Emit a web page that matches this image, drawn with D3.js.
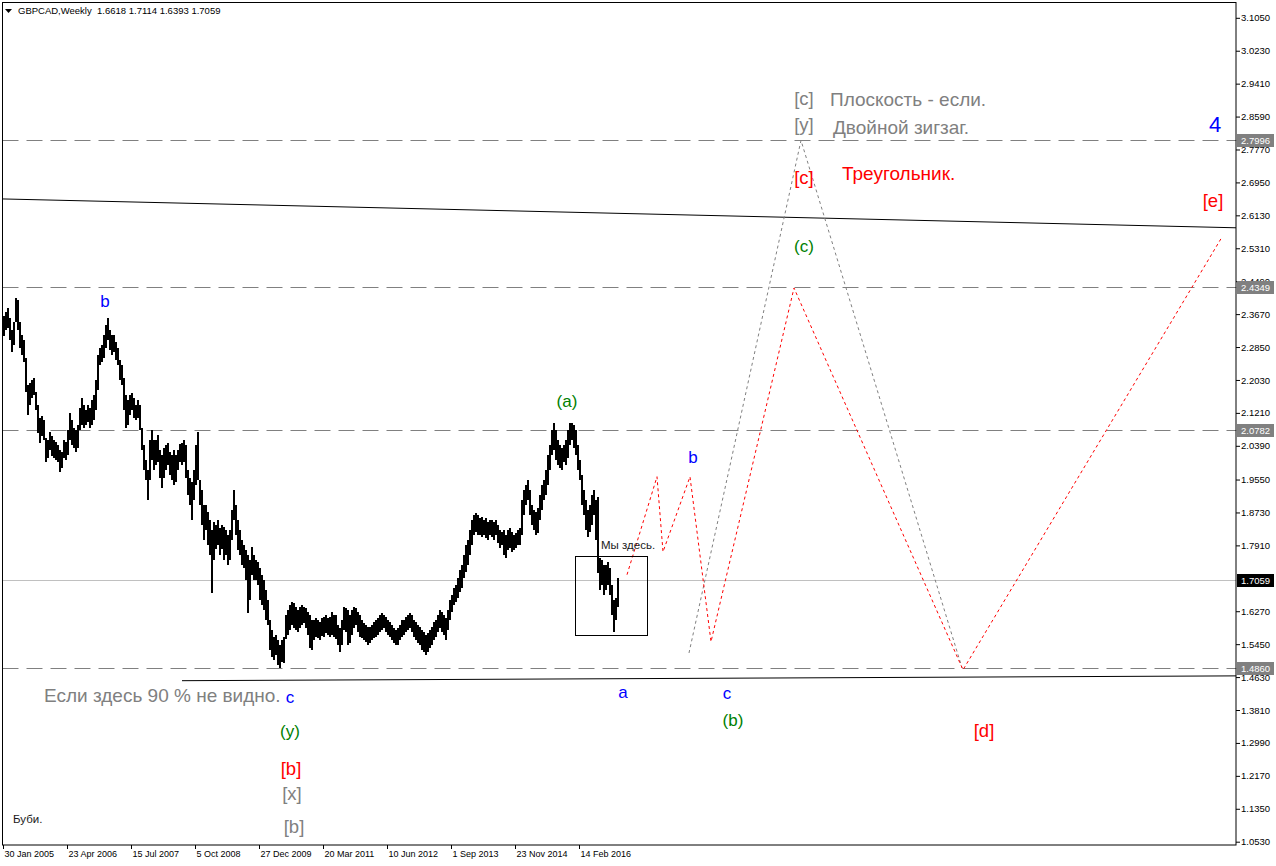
<!DOCTYPE html>
<html><head><meta charset="utf-8">
<script src="https://cdn.jsdelivr.net/npm/d3@7"></script>
<style>body{margin:0;background:#fff}svg{display:block}</style>
</head><body>
<svg id="c" width="1276" height="866"></svg>
<script>
// ---------------- DATA ----------------
const symbolTitle = "GBPCAD,Weekly";
const lastBarOHLC = [1.6618, 1.7114, 1.6393, 1.7059];
const startDate = "2005-01-30";
const weeksPerBar = 2;
const barHigh = [
2.362,2.372,2.382,2.357,2.328,2.347,2.407,2.402,2.347,2.315,
2.303,2.258,2.190,2.195,2.203,2.208,2.173,2.141,2.108,2.113,
2.103,2.059,2.054,2.074,2.064,2.054,2.049,2.041,2.029,2.024,
2.054,2.049,2.079,2.121,2.103,2.084,2.079,2.091,2.133,2.158,
2.141,2.128,2.141,2.133,2.153,2.166,2.203,2.265,2.283,2.290,
2.315,2.340,2.357,2.328,2.315,2.315,2.298,2.283,2.253,2.240,
2.208,2.166,2.153,2.166,2.171,2.158,2.141,2.153,2.141,2.084,
2.041,2.004,1.979,2.054,2.079,2.054,2.054,2.066,2.029,2.016,
2.034,2.041,2.046,2.024,2.016,2.029,2.016,2.029,2.044,2.046,
2.054,2.041,1.979,1.959,1.949,1.979,2.041,2.074,1.954,1.929,
1.891,1.891,1.874,1.854,1.829,1.849,1.841,1.854,1.834,1.841,
1.836,1.829,1.817,1.829,1.879,1.929,1.891,1.854,1.829,1.805,
1.792,1.780,1.767,1.755,1.787,1.767,1.755,1.750,1.735,1.717,
1.705,1.680,1.655,1.605,1.580,1.563,1.568,1.556,1.543,1.556,
1.563,1.617,1.630,1.642,1.650,1.647,1.637,1.630,1.637,1.642,
1.637,1.635,1.625,1.617,1.605,1.605,1.610,1.605,1.600,1.610,
1.612,1.617,1.610,1.612,1.625,1.617,1.617,1.593,1.585,1.605,
1.637,1.635,1.630,1.617,1.630,1.637,1.635,1.625,1.617,1.605,
1.598,1.593,1.588,1.588,1.593,1.600,1.605,1.610,1.617,1.622,
1.617,1.612,1.605,1.600,1.593,1.585,1.580,1.585,1.593,1.605,
1.605,1.612,1.617,1.622,1.617,1.605,1.600,1.593,1.588,1.580,
1.575,1.568,1.573,1.580,1.588,1.600,1.605,1.617,1.630,1.625,
1.617,1.610,1.630,1.655,1.667,1.685,1.692,1.710,1.730,1.742,
1.767,1.792,1.805,1.829,1.854,1.866,1.871,1.866,1.859,1.861,
1.854,1.859,1.849,1.854,1.854,1.849,1.854,1.841,1.829,1.824,
1.829,1.817,1.829,1.834,1.824,1.817,1.822,1.829,1.834,1.904,
1.929,1.941,1.954,1.929,1.891,1.879,1.874,1.884,1.916,1.941,
1.954,1.979,2.016,2.041,2.079,2.096,2.079,2.054,2.041,2.034,
2.041,2.054,2.079,2.096,2.096,2.091,2.079,2.041,2.004,1.966,
1.929,1.904,1.879,1.891,1.916,1.929,1.904,1.911,1.760,1.755,
1.742,1.742,1.750,1.735,1.692,1.655,1.660,1.710];
const barLow = [
2.313,2.328,2.332,2.303,2.273,2.290,2.347,2.328,2.283,2.265,
2.248,2.173,2.116,2.141,2.158,2.166,2.128,2.071,2.046,2.064,
2.054,1.999,2.009,2.029,2.014,2.009,2.004,1.999,1.974,1.984,
2.009,2.004,2.016,2.054,2.041,2.034,2.024,2.034,2.079,2.091,
2.084,2.091,2.098,2.084,2.091,2.103,2.128,2.178,2.240,2.248,
2.258,2.283,2.303,2.278,2.265,2.273,2.253,2.240,2.203,2.190,
2.128,2.084,2.091,2.116,2.128,2.108,2.103,2.108,2.079,2.029,
1.979,1.954,1.904,1.954,2.004,1.979,1.991,1.999,1.959,1.934,
1.959,1.979,1.991,1.966,1.954,1.941,1.949,1.979,1.999,1.991,
1.999,1.959,1.916,1.891,1.854,1.904,1.941,1.954,1.891,1.841,
1.805,1.829,1.792,1.767,1.672,1.755,1.780,1.792,1.767,1.780,
1.755,1.767,1.742,1.755,1.805,1.854,1.817,1.780,1.767,1.742,
1.735,1.705,1.622,1.655,1.717,1.705,1.705,1.692,1.655,1.642,
1.630,1.605,1.593,1.531,1.513,1.506,1.518,1.493,1.486,1.501,
1.498,1.556,1.568,1.580,1.593,1.585,1.580,1.575,1.585,1.593,
1.598,1.585,1.568,1.536,1.531,1.556,1.563,1.561,1.556,1.566,
1.563,1.573,1.568,1.561,1.568,1.561,1.556,1.543,1.526,1.543,
1.580,1.575,1.543,1.548,1.568,1.585,1.593,1.575,1.563,1.561,
1.556,1.551,1.543,1.548,1.556,1.561,1.563,1.568,1.575,1.580,
1.585,1.575,1.568,1.563,1.556,1.548,1.543,1.543,1.556,1.563,
1.568,1.575,1.580,1.585,1.575,1.563,1.556,1.548,1.543,1.531,
1.526,1.518,1.526,1.536,1.543,1.556,1.563,1.575,1.585,1.575,
1.568,1.556,1.580,1.605,1.625,1.642,1.650,1.660,1.675,1.685,
1.710,1.725,1.742,1.767,1.792,1.817,1.824,1.817,1.817,1.812,
1.817,1.810,1.805,1.817,1.812,1.805,1.817,1.797,1.785,1.792,
1.767,1.760,1.780,1.785,1.775,1.780,1.785,1.792,1.792,1.817,
1.866,1.891,1.904,1.866,1.841,1.829,1.817,1.822,1.854,1.879,
1.904,1.916,1.941,1.979,2.016,2.029,2.004,1.991,1.984,1.979,
1.999,1.991,2.009,2.041,2.054,2.034,2.016,1.979,1.954,1.891,
1.866,1.829,1.812,1.824,1.841,1.866,1.805,1.722,1.680,1.692,
1.667,1.680,1.692,1.667,1.617,1.575,1.605,1.637];

const yTickValues = [3.1050,3.0230,2.9410,2.8590,2.7770,2.6950,2.6130,2.5310,2.4490,2.3670,2.2850,2.2030,2.1210,2.0390,1.9550,1.8730,1.7910,1.6270,1.5450,1.4630,1.3810,1.2990,1.2170,1.1350,1.0530];
const xTickDates = ["2005-01-30","2006-04-23","2007-07-15","2008-10-05","2009-12-27","2011-03-20","2012-06-10","2013-09-01","2014-11-23","2016-02-14"];
const xTickLabels = ["30 Jan 2005","23 Apr 2006","15 Jul 2007","5 Oct 2008","27 Dec 2009","20 Mar 2011","10 Jun 2012","1 Sep 2013","23 Nov 2014","14 Feb 2016"];

const dashedLevels = [2.7996, 2.4349, 2.0782, 1.4860];
const currentPrice = 1.7059;

// trend lines & projections: [week offset from start, price]
const upperTrend = [[-3, 2.654], [1233, 2.582]];
const lowerTrend = [[179, 1.454], [1233, 1.466]];
const redProjection = [[624,1.718],[654,1.962],[660,1.775],[687,1.962],[708,1.551],[791,2.432],[960,1.481],[1219,2.559]];
const grayProjection = [[686,1.523],[798,2.7996],[959,1.486]];
const hereBoxWeeks = [572, 644];
const hereBoxPrices = [1.765, 1.568];

// wave labels: [text, week, price, kind]
const waveLabels = [
  ["b",102,2.385,"blue"],
  ["(a)",564,2.136,"green"],
  ["b",690,1.996,"blue"],
  ["a",620,1.411,"blue"],
  ["c",724,1.409,"blue"],
  ["(b)",730,1.342,"green"],
  ["[d]",981,1.314,"red"],
  ["[e]",1210,2.634,"red"],
  ["4",1212,2.821,"blueBig"],
  ["[c]",801,2.888,"gray"],
  ["[y]",801,2.823,"gray"],
  ["[c]",801,2.691,"red"],
  ["(c)",801,2.522,"green"],
  ["c",287,1.399,"blue"],
  ["(y)",287,1.314,"green"],
  ["[b]",288,1.220,"red"],
  ["[x]",289,1.157,"gray"],
  ["[b]",291,1.075,"gray"]
];
const notes = [
  ["Плоскость - если.",827,2.885,"grayNote"],
  ["Двойной зигзаг.",830,2.816,"grayNote"],
  ["Треугольник.",839,2.701,"redNote"],
  ["Если здесь 90 % не видно.",41,1.401,"grayNote"],
  ["Мы здесь.",598,1.782,"small"],
  ["Буби.",10,1.100,"small"]
];

// ---------------- STYLE / LAYOUT ----------------
const FONT = "'Liberation Sans', Arial, Helvetica, sans-serif";
const styles = {
  blue:{fill:"#0000ff",size:17,anchor:"middle"},
  blueBig:{fill:"#0000ff",size:22,anchor:"middle"},
  green:{fill:"#008000",size:17,anchor:"middle"},
  red:{fill:"#ff0000",size:18.5,anchor:"middle"},
  gray:{fill:"#808080",size:18.5,anchor:"middle"},
  grayNote:{fill:"#808080",size:19,anchor:"start"},
  redNote:{fill:"#ff0000",size:19,anchor:"start"},
  small:{fill:"#1a1a1a",size:11.5,anchor:"start"}
};
const frame = {left:2.5, right:1236.5, top:2.5, bottom:845.5};

const svg = d3.select("#c");
const t0 = d3.isoParse(startDate);
const WEEK = 7*24*3600*1000;
const wk = w => new Date(+t0 + w*WEEK);

const x = d3.scaleUtc().domain([wk(0), wk(1233)]).range([3, 1236]);
const y = d3.scaleLinear().domain([1.053, 3.105]).range([841.7, 17.8]);

svg.append("defs").append("clipPath").attr("id","clip")
  .append("rect").attr("x",frame.left).attr("y",frame.top)
  .attr("width",frame.right-frame.left).attr("height",frame.bottom-frame.top);

const plot = svg.append("g").attr("clip-path","url(#clip)");

// level lines
plot.selectAll("line.lvl").data(dashedLevels).join("line").attr("class","lvl")
  .attr("x1",frame.left).attr("x2",frame.right)
  .attr("y1",d=>Math.round(y(d))+0.5).attr("y2",d=>Math.round(y(d))+0.5)
  .attr("stroke","#808080").attr("stroke-width",1).attr("stroke-dasharray","16,8");
plot.append("line")
  .attr("x1",frame.left).attr("x2",frame.right)
  .attr("y1",Math.round(y(currentPrice))+0.5).attr("y2",Math.round(y(currentPrice))+0.5)
  .attr("stroke","#c0c0c0").attr("stroke-width",1);

// trend lines
const line = d3.line().x(d=>x(wk(d[0]))).y(d=>y(d[1]));
[upperTrend, lowerTrend].forEach(t=>{
  plot.append("path").attr("d",line(t)).attr("fill","none").attr("stroke","#000").attr("stroke-width",1);
});

// price bars
const n = Math.min(barHigh.length, barLow.length);
const bars = d3.range(n).map(i=>({date:wk(i*weeksPerBar), hi:barHigh[i], lo:barLow[i]}));
plot.append("g").attr("shape-rendering","crispEdges").selectAll("rect").data(bars).join("rect")
  .attr("x",d=>Math.round(x(d.date))).attr("width",2)
  .attr("y",d=>Math.round(y(d.hi))).attr("height",d=>Math.max(1,Math.round(y(d.lo)-y(d.hi))))
  .attr("fill","#000");

// projections
plot.append("path").attr("d",line(grayProjection)).attr("fill","none")
  .attr("stroke","#808080").attr("stroke-width",1).attr("stroke-dasharray","3,3");
plot.append("path").attr("d",line(redProjection)).attr("fill","none")
  .attr("stroke","#ff0000").attr("stroke-width",1).attr("stroke-dasharray","3,3");

// "we are here" box
plot.append("rect")
  .attr("x",Math.round(x(wk(hereBoxWeeks[0])))+0.5).attr("y",Math.round(y(hereBoxPrices[0]))+0.5)
  .attr("width",Math.round(x(wk(hereBoxWeeks[1]))-x(wk(hereBoxWeeks[0]))))
  .attr("height",Math.round(y(hereBoxPrices[1])-y(hereBoxPrices[0])))
  .attr("fill","none").attr("stroke","#000").attr("stroke-width",1);

// labels
const allText = waveLabels.concat(notes);
plot.append("g").selectAll("text").data(allText).join("text")
  .attr("x",d=>x(wk(d[1]))).attr("y",d=>y(d[2]))
  .attr("text-anchor",d=>styles[d[3]].anchor)
  .attr("fill",d=>styles[d[3]].fill)
  .attr("font-size",d=>styles[d[3]].size)
  .attr("font-family",FONT)
  .text(d=>d[0]);

// frame
svg.append("rect").attr("x",frame.left).attr("y",frame.top)
  .attr("width",frame.right-frame.left-0.5).attr("height",frame.bottom-frame.top-0.5)
  .attr("fill","none").attr("stroke","#000").attr("stroke-width",1);

// y axis
const yAxis = svg.append("g").attr("transform",`translate(${frame.right-0.5},0)`)
  .call(d3.axisRight(y).tickValues(yTickValues).tickFormat(d3.format(".4f")).tickSize(4).tickPadding(1));
yAxis.select(".domain").remove();
yAxis.selectAll("line").attr("stroke","#000");
yAxis.selectAll("text").attr("font-family",FONT).attr("font-size",9.5).attr("fill","#000");

// x axis
const xAxis = svg.append("g").attr("transform",`translate(0,${frame.bottom-0.5})`)
  .call(d3.axisBottom(x).tickValues(xTickDates.map(d=>d3.isoParse(d))).tickFormat((d,i)=>xTickLabels[i]).tickSize(4).tickPadding(2));
xAxis.select(".domain").remove();
xAxis.selectAll("line").attr("stroke","#000");
xAxis.selectAll("text").attr("font-family",FONT).attr("font-size",9).attr("fill","#000")
  .attr("text-anchor","start").attr("dx",1);

// price tags
const tags = dashedLevels.map(v=>({v,bg:"#808080"})).concat([{v:currentPrice,bg:"#000"}]);
const tg = svg.append("g").selectAll("g").data(tags).join("g")
  .attr("transform",d=>`translate(${frame.right},${Math.round(y(d.v))})`);
tg.append("rect").attr("x",0.5).attr("y",-6).attr("width",37).attr("height",13).attr("fill",d=>d.bg);
tg.append("text").attr("x",4.5).attr("y",4).attr("font-family",FONT).attr("font-size",9.5)
  .attr("fill","#fff").text(d=>d3.format(".4f")(d.v));

// header
svg.append("path").attr("d","M5,9 L12,9 L8.5,13 Z").attr("fill","#000");
svg.append("text").attr("x",18).attr("y",14).attr("font-family",FONT).attr("font-size",9.5)
  .attr("fill","#000").style("white-space","pre")
  .text(symbolTitle + "  " + lastBarOHLC.map(d3.format(".4f")).join(" "));
</script>
</body></html>
